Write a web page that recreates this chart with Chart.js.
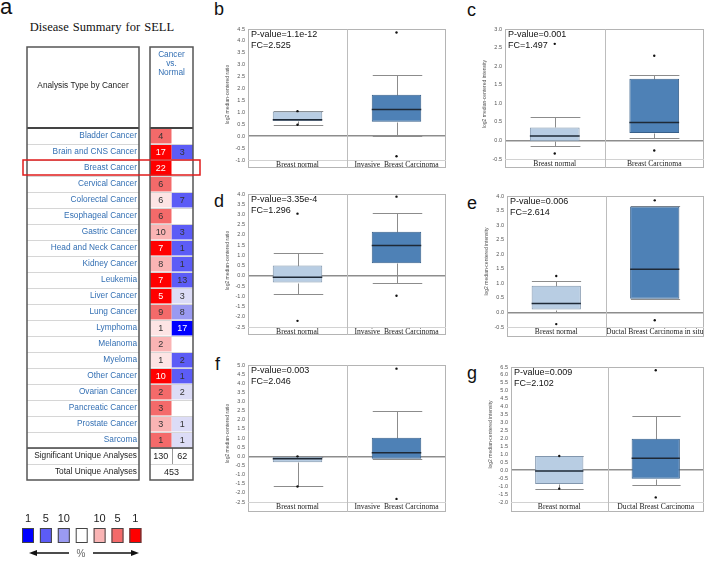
<!DOCTYPE html>
<html>
<head>
<meta charset="utf-8">
<script src="https://cdn.jsdelivr.net/npm/chart.js@4.4.1/dist/chart.umd.min.js"></script>
<style>
  body { margin: 0; width: 708px; height: 561px; position: relative; overflow: hidden; background: #fff;
         font-family: "Liberation Sans", Arial, sans-serif; }
  canvas { position: absolute; }
  .letter { position: absolute; font-size: 18px; line-height: 18px; color: #111; }
  #title { position: absolute; left: 0; top: 21px; width: 204px; text-align: center;
           font: 12.5px/13px "Liberation Serif", serif; color: #111; word-spacing: 1px; }
</style>
</head>
<body>
<div class="letter" style="left:0;top:-4px;font-size:22px;line-height:22px">a</div>
<div class="letter" style="left:214px;top:0px">b</div>
<div class="letter" style="left:467px;top:1px">c</div>
<div class="letter" style="left:214px;top:192px">d</div>
<div class="letter" style="left:467px;top:194px">e</div>
<div class="letter" style="left:215px;top:355px">f</div>
<div class="letter" style="left:467px;top:364px">g</div>
<div id="title">Disease Summary for SELL</div>

<canvas id="tableChart" width="220" height="521" style="left:0;top:40px"></canvas>
<canvas id="chartB" width="225" height="149" style="left:225px;top:20px"></canvas>
<canvas id="chartC" width="226" height="149" style="left:482px;top:20px"></canvas>
<canvas id="chartD" width="225" height="151" style="left:225px;top:185px"></canvas>
<canvas id="chartE" width="224" height="151" style="left:484px;top:187px"></canvas>
<canvas id="chartF" width="225" height="157" style="left:225px;top:356px"></canvas>
<canvas id="chartG" width="220" height="155" style="left:488px;top:358px"></canvas>

<script>
// ---- panel a: Oncomine disease summary ----
const cancerTypes = ['Bladder Cancer', 'Brain and CNS Cancer', 'Breast Cancer', 'Cervical Cancer',
  'Colorectal Cancer', 'Esophageal Cancer', 'Gastric Cancer', 'Head and Neck Cancer', 'Kidney Cancer',
  'Leukemia', 'Liver Cancer', 'Lung Cancer', 'Lymphoma', 'Melanoma', 'Myeloma', 'Other Cancer',
  'Ovarian Cancer', 'Pancreatic Cancer', 'Prostate Cancer', 'Sarcoma'];
const upCounts   = [4, 17, 22, 6, 6, 6, 10, 7, 8, 7, 5, 9, 1, 2, 1, 10, 2, 3, 3, 1];
const upRank     = [5, 1, 1, 5, 25, 5, 10, 1, 10, 1, 1, 5, 25, 10, 25, 1, 5, 5, 10, 5];
const downCounts = [null, 3, null, null, 7, null, 3, 1, 1, 13, 3, 8, 17, null, 2, 1, 2, null, 1, 1];
const downRank   = [null, 5, null, null, 5, null, 5, 5, 5, 5, 25, 10, 1, null, 5, 5, 25, null, 25, 25];
const summaryLabels = ['Significant Unique Analyses', 'Total Unique Analyses'];
const significantCounts = [130, 62];
const totalAnalyses = 453;
const legendRanks = [1, 5, 10];
const highlightRow = 'Breast Cancer';

// ---- panels b-g: box plots (min, q1, median, q3, max) ----
const groupsB = ['Breast normal', 'Invasive  Breast Carcinoma'];
const statsB = [[0.48, 0.64, 0.69, 1.04, 1.04], [0.02, 0.61, 1.12, 1.74, 2.57]];
const outliersB = [[1.05, 0.48], [4.35, -0.84]];
const rangeB = [-1.0, 4.5];
const textB = ['P-value=1.1e-12', 'FC=2.525'];

const groupsC = ['Breast normal', 'Breast Carcinoma'];
const statsC = [[-0.14, -0.02, 0.12, 0.35, 0.64], [0.07, 0.2, 0.48, 1.66, 1.75]];
const outliersC = [[2.6, -0.35], [2.28, -0.27]];
const rangeC = [-0.5, 3.0];
const textC = ['P-value=0.001', 'FC=1.497'];

const groupsD = ['Breast normal', 'Invasive  Breast Carcinoma'];
const statsD = [[-0.87, -0.33, -0.07, 0.5, 1.12], [-0.33, 0.62, 1.48, 2.15, 3.08]];
const outliersD = [[3.04, -2.2], [3.87, -0.97]];
const rangeD = [-2.5, 4.0];
const textD = ['P-value=3.35e-4', 'FC=1.296'];

const groupsE = ['Breast normal', 'Ductal Breast Carcinoma in situ'];
const statsE = [[0.02, 0.1, 0.31, 0.92, 1.07], [0.47, 0.47, 1.48, 3.64, 3.64]];
const outliersE = [[1.25, -0.4], [3.85, -0.27]];
const rangeE = [-0.5, 4.0];
const textE = ['P-value=0.006', 'FC=2.614'];

const groupsF = ['Breast normal', 'Invasive  Breast Carcinoma'];
const statsF = [[-1.65, -0.33, -0.13, -0.02, -0.02], [-0.17, -0.13, 0.2, 1.02, 2.5]];
const outliersF = [[0.0, -1.65], [4.8, -2.33]];
const rangeF = [-2.5, 5.0];
const textF = ['P-value=0.003', 'FC=2.046'];

const groupsG = ['Breast normal', 'Ductal Breast Carcinoma'];
const statsG = [[-1.16, -0.87, -0.05, 0.9, 0.9], [-0.95, -0.53, 0.76, 1.98, 3.4]];
const outliersG = [[0.9, -1.16], [6.3, -1.71]];
const rangeG = [-2.0, 6.5];
const textG = ['P-value=0.009', 'FC=2.102'];

const ratioTitle = 'log2 median-centered ratio';
const intensityTitle = 'log2 median-centered intensity';

// colours
const linkBlue = '#3470b4';
const redShades = { 1: '#ff0000', 5: '#f46a6a', 10: '#fab4b4', 25: '#fde4e4' };
const blueShades = { 1: '#0000ff', 5: '#5c5cf6', 10: '#9a9af2', 25: '#dcdcf6' };
const normalFill = '#b8cde3', normalEdge = '#8196ad';
const tumourFill = '#4e81b6', tumourEdge = '#38608a';

Chart.defaults.font.family = '"Liberation Sans", Arial, sans-serif';

function line(ctx, x1, y1, x2, y2) {
  ctx.beginPath(); ctx.moveTo(x1, y1); ctx.lineTo(x2, y2); ctx.stroke();
}

const tableFrame = {
  id: 'tableFrame',
  afterDatasetsDraw(chart) {
    const { ctx, chartArea: ca, scales: { x, y } } = chart;
    const n = cancerTypes.length;
    const rowH = y.getPixelForValue(1) - y.getPixelForValue(0);
    const rowTop = i => y.getPixelForValue(i) - rowH / 2;
    const L0 = 27, L1 = 139, R0 = ca.left, R1 = ca.right, top = 7;
    const bottom = rowTop(n + 2);
    ctx.save();

    // row separators
    ctx.strokeStyle = '#d6d6d6'; ctx.lineWidth = 1;
    for (let i = 1; i < n + 2; i++) {
      const yy = Math.round(rowTop(i)) + 0.5;
      line(ctx, L0, yy, L1, yy);
      line(ctx, R0, yy, R1, yy);
    }
    ctx.strokeStyle = '#999';
    const mid = Math.round(x.getPixelForValue(1)) + 0.5;
    line(ctx, mid, rowTop(n), mid, rowTop(n + 1));

    // header and summary rules
    ctx.strokeStyle = '#444'; ctx.lineWidth = 2;
    line(ctx, L0, rowTop(0), L1, rowTop(0)); line(ctx, R0, rowTop(0), R1, rowTop(0));
    ctx.lineWidth = 1.5;
    line(ctx, L0, rowTop(n), L1, rowTop(n)); line(ctx, R0, rowTop(n), R1, rowTop(n));

    // outer frames
    ctx.strokeStyle = '#555'; ctx.lineWidth = 1.5;
    ctx.strokeRect(L0, top, L1 - L0, bottom - top);
    ctx.strokeRect(R0, top, R1 - R0, bottom - top);

    // header text
    ctx.textAlign = 'center'; ctx.textBaseline = 'middle';
    ctx.font = '8.3px "Liberation Sans", Arial';
    ctx.fillStyle = '#222';
    ctx.fillText('Analysis Type by Cancer', (L0 + L1) / 2, 46);
    ctx.fillStyle = linkBlue;
    ['Cancer', 'vs.', 'Normal'].forEach((t, k) => ctx.fillText(t, (R0 + R1) / 2, 15 + k * 9));

    // cell numbers
    ctx.font = '9px "Liberation Sans", Arial';
    const c0 = x.getPixelForValue(0.5), c1 = x.getPixelForValue(1.5);
    for (let i = 0; i < n; i++) {
      const yy = y.getPixelForValue(i) + 0.5;
      ctx.fillStyle = upRank[i] === 1 ? '#fff' : '#333';
      ctx.fillText(String(upCounts[i]), c0, yy);
      if (downCounts[i] !== null) {
        ctx.fillStyle = downRank[i] === 1 ? '#fff' : '#333';
        ctx.fillText(String(downCounts[i]), c1, yy);
      }
    }
    ctx.fillStyle = '#222';
    ctx.fillText(String(significantCounts[0]), c0, y.getPixelForValue(n) + 0.5);
    ctx.fillText(String(significantCounts[1]), c1, y.getPixelForValue(n) + 0.5);
    ctx.fillText(String(totalAnalyses), (R0 + R1) / 2, y.getPixelForValue(n + 1) + 0.5);

    // highlighted row
    const h = cancerTypes.indexOf(highlightRow);
    ctx.strokeStyle = '#e01b1b'; ctx.lineWidth = 1.5;
    ctx.strokeRect(23, rowTop(h), 177, rowH - 1);

    // colour legend
    const legendCols = legendRanks.map(r => ({ label: r, color: blueShades[r] }))
      .concat([{ label: '', color: '#fff' }])
      .concat(legendRanks.slice().reverse().map(r => ({ label: r, color: redShades[r] })));
    ctx.font = '11px "Liberation Sans", Arial';
    ctx.lineWidth = 1; ctx.strokeStyle = '#444';
    legendCols.forEach((c, k) => {
      const lx = 22 + k * 17.9;
      ctx.fillStyle = c.color;
      ctx.fillRect(lx, 488, 12, 15);
      ctx.strokeRect(lx + 0.5, 488.5, 11, 14);
      ctx.fillStyle = '#222';
      ctx.fillText(String(c.label), lx + 6, 479);
    });
    ctx.strokeStyle = '#111'; ctx.fillStyle = '#111'; ctx.lineWidth = 1.5;
    line(ctx, 34, 513, 69, 513);
    line(ctx, 93, 513, 134, 513);
    ctx.beginPath(); ctx.moveTo(29, 513); ctx.lineTo(37, 510); ctx.lineTo(37, 516); ctx.fill();
    ctx.beginPath(); ctx.moveTo(139, 513); ctx.lineTo(131, 510); ctx.lineTo(131, 516); ctx.fill();
    ctx.font = '10px "Liberation Sans", Arial';
    ctx.fillStyle = '#666';
    ctx.fillText('%', 81, 514);
    ctx.restore();
  }
};

const rowLabels = cancerTypes.concat(summaryLabels);
new Chart(document.getElementById('tableChart'), {
  type: 'bar',
  data: {
    labels: rowLabels,
    datasets: [{
      data: upCounts.map(() => [0, 1]),
      backgroundColor: upRank.map(r => redShades[r]),
      grouped: false, barPercentage: 1, categoryPercentage: 0.93, borderWidth: 0
    }, {
      data: downCounts.map(c => (c === null ? null : [1, 2])),
      backgroundColor: downRank.map(r => (r === null ? '#fff' : blueShades[r])),
      grouped: false, barPercentage: 1, categoryPercentage: 0.93, borderWidth: 0
    }]
  },
  options: {
    indexAxis: 'y',
    responsive: false,
    animation: false,
    layout: { padding: { top: 88, right: 27, bottom: 81, left: 0 } },
    scales: {
      x: { display: false, min: 0, max: 2 },
      y: {
        grid: { display: false, drawTicks: false },
        border: { display: false },
        ticks: {
          autoSkip: false, padding: 13,
          font: { size: 8.3 },
          color: c => (c.index < cancerTypes.length ? linkBlue : '#222')
        },
        afterFit: s => { s.width = 150; }
      }
    },
    plugins: { legend: { display: false }, tooltip: { enabled: false } }
  },
  plugins: [tableFrame]
});

// ---- box plots ----
const boxParts = {
  id: 'boxParts',
  beforeDatasetsDraw(chart, args, opts) {
    const { ctx, chartArea: ca, scales: { x, y } } = chart;
    const meta = chart.getDatasetMeta(0);
    ctx.save();
    // frame with the label band
    ctx.strokeStyle = '#b4b4b4'; ctx.lineWidth = 1;
    ctx.strokeRect(ca.left + 0.5, ca.top + 0.5, ca.width - 1, ca.bottom + x.height - ca.top - 1);
    ctx.strokeStyle = '#d2d2d2';
    line(ctx, ca.left, Math.round(ca.bottom) + 0.5, ca.right, Math.round(ca.bottom) + 0.5);
    ctx.strokeStyle = '#bdbdbd';
    const mx = Math.round(x.getPixelForValue(0.5)) + 0.5;
    line(ctx, mx, ca.top, mx, ca.bottom + x.height);
    // whiskers
    ctx.strokeStyle = '#8c8c8c'; ctx.lineWidth = 1;
    opts.stats.forEach((s, i) => {
      const cx = Math.round(x.getPixelForValue(i)) + 0.5;
      const half = meta.data[i].width / 2;
      const [lo, q1, , q3, hi] = s.map(v => Math.round(y.getPixelForValue(v)) + 0.5);
      line(ctx, cx, q3, cx, hi);
      line(ctx, cx, q1, cx, lo);
      line(ctx, cx - half, hi, cx + half, hi);
      line(ctx, cx - half, lo, cx + half, lo);
    });
    ctx.restore();
  },
  afterDatasetsDraw(chart, args, opts) {
    const { ctx, chartArea: ca, scales: { x, y } } = chart;
    const meta = chart.getDatasetMeta(0);
    ctx.save();
    ctx.strokeStyle = '#1e2936'; ctx.lineWidth = 1.5;
    opts.stats.forEach((s, i) => {
      const cx = x.getPixelForValue(i);
      const half = meta.data[i].width / 2;
      const my = y.getPixelForValue(s[2]);
      line(ctx, cx - half, my, cx + half, my);
    });
    ctx.fillStyle = '#111';
    ctx.font = '9px "Liberation Sans", Arial';
    ctx.textAlign = 'left'; ctx.textBaseline = 'middle';
    opts.lines.forEach((t, k) => ctx.fillText(t, ca.left + 3, ca.top + 6 + k * 11));
    ctx.restore();
  }
};

function boxChart(id, groups, stats, outliers, range, yTitle, lines, bandH) {
  return new Chart(document.getElementById(id), {
    type: 'bar',
    data: {
      labels: groups,
      datasets: [{
        data: stats.map(s => [s[1], s[3]]),
        backgroundColor: [normalFill, tumourFill],
        borderColor: [normalEdge, tumourEdge],
        borderWidth: 1,
        borderSkipped: false,
        barPercentage: 0.5,
        categoryPercentage: 1,
        order: 2
      }, {
        type: 'scatter',
        data: outliers.flatMap((vals, i) => vals.map(v => ({ x: groups[i], y: v }))),
        pointRadius: 1.2,
        pointBackgroundColor: '#111',
        pointBorderWidth: 0,
        order: 1
      }]
    },
    options: {
      responsive: false,
      animation: false,
      layout: { padding: { top: 9, right: 2, bottom: 1, left: 0 } },
      scales: {
        x: {
          grid: { display: false, drawTicks: false },
          border: { display: false },
          ticks: {
            color: '#222', padding: 0, maxRotation: 0, autoSkip: false,
            font: { family: '"Liberation Serif", serif', size: 7.6 }
          },
          afterFit: s => { s.height = bandH; }
        },
        y: {
          min: range[0], max: range[1],
          grid: {
            drawTicks: false,
            color: c => (c.tick && c.tick.value === 0 ? '#8d8d8d' : 'rgba(0,0,0,0)'),
            lineWidth: c => (c.tick && c.tick.value === 0 ? 1.5 : 0)
          },
          border: { display: false },
          ticks: {
            stepSize: 0.5, autoSkip: false, color: '#555', padding: 3,
            font: { size: 5.5 }, callback: v => v.toFixed(1)
          },
          title: { display: true, text: yTitle, color: '#555', font: { size: 5 }, padding: 0 },
          afterFit: s => { s.width = 23; }
        }
      },
      plugins: { legend: { display: false }, tooltip: { enabled: false }, boxParts: { stats, lines } }
    },
    plugins: [boxParts]
  });
}

boxChart('chartB', groupsB, statsB, outliersB, rangeB, ratioTitle, textB, 8);
boxChart('chartC', groupsC, statsC, outliersC, rangeC, intensityTitle, textC, 9);
boxChart('chartD', groupsD, statsD, outliersD, rangeD, ratioTitle, textD, 8);
boxChart('chartE', groupsE, statsE, outliersE, rangeE, intensityTitle, textE, 10);
boxChart('chartF', groupsF, statsF, outliersF, rangeF, ratioTitle, textF, 10);
boxChart('chartG', groupsG, statsG, outliersG, rangeG, intensityTitle, textG, 10);
</script>
</body>
</html>
